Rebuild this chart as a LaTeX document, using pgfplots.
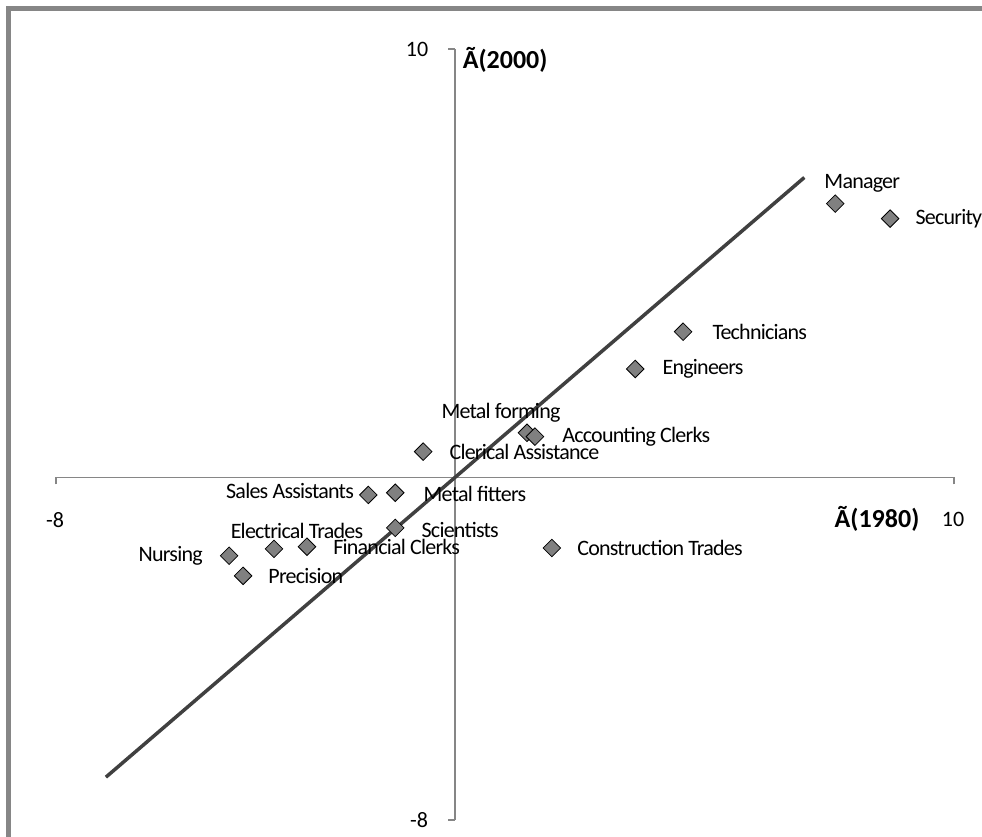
\documentclass[border=0pt]{standalone}
\usepackage{pgfplots}
\pgfplotsset{compat=1.18}
\usepackage{fontspec}
\setmainfont{Carlito}
\newfontfamily\lblfont[LetterSpace=-3.5]{Carlito}

\definecolor{axgray}{HTML}{868686}
\definecolor{markgray}{HTML}{808080}
\definecolor{trendgray}{HTML}{404040}

% one occupation point: label anchor, x shift, y shift (pt)
\pgfplotsset{occ/.style n args={3}{only marks, mark=square*, mark size=6.2pt,
  mark options={fill=markgray, draw=black, line width=0.8pt, rotate=45},
  nodes near coords, point meta=explicit symbolic,
  every node near coord/.append style={anchor=#1, xshift=#2pt, yshift=#3pt,
    inner sep=0pt, text=black, font=\lblfont\fontsize{22}{24}\selectfont}}}

\begin{document}
\begin{tikzpicture}
\path[use as bounding box, clip] (0,0) rectangle (982pt,836pt);
\fill[white] (0,0) rectangle (982pt,836pt);
\draw[axgray, line width=5pt] (8.5pt,-20pt) -- (8.5pt,827.5pt) -- (1000pt,827.5pt);

\begin{axis}[
  at={(56pt,16pt)}, anchor=south west,
  scale only axis, width=898pt, height=771pt,
  xmin=-8, xmax=10, ymin=-8, ymax=10,
  enlargelimits=false,
  axis lines=middle,
  axis line style={axgray, line width=1.5pt, -},
  xtick={-8,10}, ytick={-8,10},
  xticklabels={,}, yticklabels={,},
  tick style={axgray, line width=1.5pt},
  tick align=outside, major tick length=7pt,
  clip=false,
  font=\fontsize{22}{24}\selectfont,
]
\addplot[trendgray, line width=3.5pt] coordinates {(-7,-7) (7,7)};

\addplot[occ={center}{27}{20}]  coordinates {(7.62,6.39) [Manager]};
\addplot[occ={west}{25}{0}]     coordinates {(8.72,6.04) [Security]};
\addplot[occ={west}{29}{0}]     coordinates {(4.57,3.40) [Technicians]};
\addplot[occ={west}{27}{0}]     coordinates {(3.61,2.53) [Engineers]};
\addplot[occ={center}{-26}{20}] coordinates {(1.44,1.04) [Metal forming]};
\addplot[occ={west}{27}{0}]     coordinates {(1.60,0.95) [Accounting Clerks]};
\addplot[occ={west}{26}{0}]     coordinates {(-0.64,0.60) [Clerical Assistance]};
\addplot[occ={east}{-14}{4}]    coordinates {(-1.74,-0.41) [Sales Assistants]};
\addplot[occ={west}{28}{-1}]    coordinates {(-1.20,-0.36) [Metal fitters]};
\addplot[occ={west}{26}{-2}]    coordinates {(-1.20,-1.18) [Scientists]};
\addplot[occ={west}{26}{0}]     coordinates {(-2.97,-1.62) [Financial Clerks]};
\addplot[occ={center}{23}{18}]  coordinates {(-3.63,-1.67) [Electrical Trades]};
\addplot[occ={east}{-26}{0}]    coordinates {(-4.53,-1.83) [Nursing]};
\addplot[occ={west}{25}{0}]     coordinates {(-4.25,-2.30) [Precision]};
\addplot[occ={west}{25}{0}]     coordinates {(1.94,-1.65) [Construction Trades]};

% tick labels and axis titles
\node[inner sep=0pt] at (axis cs:-8,0) [xshift=-1pt, yshift=-43pt] {-8};
\node[inner sep=0pt] at (axis cs:10,0) [xshift=-1pt, yshift=-42pt] {10};
\node[inner sep=0pt] at (axis cs:0,10) [xshift=-38pt, yshift=0pt] {10};
\node[inner sep=0pt] at (axis cs:0,-8) [xshift=-36pt, yshift=0pt] {-8};
\node[inner sep=0pt, font=\fontsize{26}{28}\selectfont\bfseries] at (axis cs:0,10) [xshift=50pt, yshift=-11pt] {Ã(2000)};
\node[inner sep=0pt, font=\fontsize{26}{28}\selectfont\bfseries] at (axis cs:10,0) [xshift=-77pt, yshift=-41.5pt] {Ã(1980)};
\end{axis}
\end{tikzpicture}
\end{document}
